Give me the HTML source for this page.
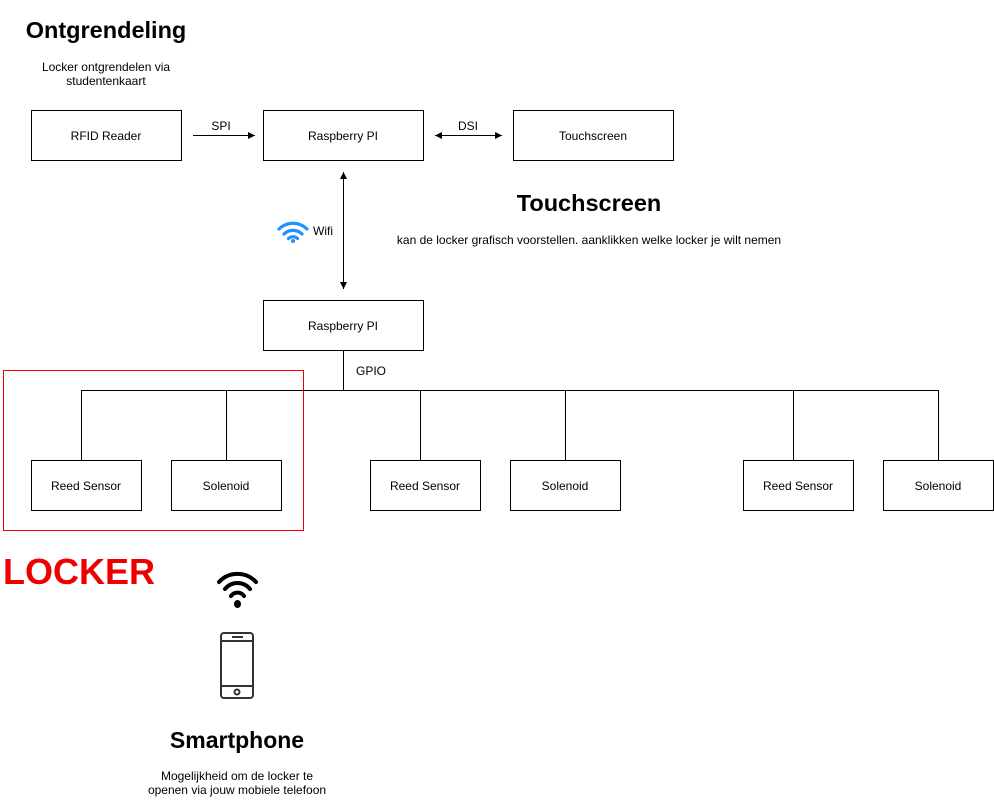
<!DOCTYPE html>
<html><head><style>body{margin:0;background:#fff}svg{display:block}text{font-family:"Liberation Sans",sans-serif}</style></head><body>
<svg width="994" height="811" viewBox="0 0 994 811" xmlns="http://www.w3.org/2000/svg">
<defs><marker id="a" markerWidth="8" markerHeight="8" refX="7" refY="4" orient="auto-start-reverse"><path d="M0,0.5 L7,4 L0,7.5 Z" fill="#000"/></marker></defs>
<g fill="#fff" stroke="#000" stroke-width="1">
<rect x="31.5" y="110.5" width="150" height="50"/>
<rect x="263.5" y="110.5" width="160" height="50"/>
<rect x="513.5" y="110.5" width="160" height="50"/>
<rect x="263.5" y="300.5" width="160" height="50"/>
<rect x="31.5" y="460.5" width="110" height="50"/>
<rect x="171.5" y="460.5" width="110" height="50"/>
<rect x="370.5" y="460.5" width="110" height="50"/>
<rect x="510.5" y="460.5" width="110" height="50"/>
<rect x="743.5" y="460.5" width="110" height="50"/>
<rect x="883.5" y="460.5" width="110" height="50"/>
</g>
<rect x="3.5" y="370.5" width="300" height="160" fill="none" stroke="#e00" stroke-width="1"/>
<g stroke="#000" stroke-width="1" fill="none">
<line x1="193" y1="135.5" x2="255" y2="135.5" marker-end="url(#a)"/>
<line x1="435" y1="135.5" x2="502" y2="135.5" marker-start="url(#a)" marker-end="url(#a)"/>
<line x1="343.5" y1="172" x2="343.5" y2="289" marker-start="url(#a)" marker-end="url(#a)"/>
<line x1="343.5" y1="350" x2="343.5" y2="390"/>
<line x1="81" y1="390.5" x2="938" y2="390.5"/>
<line x1="81.5" y1="390" x2="81.5" y2="460"/>
<line x1="226.5" y1="390" x2="226.5" y2="460"/>
<line x1="420.5" y1="390" x2="420.5" y2="460"/>
<line x1="565.5" y1="390" x2="565.5" y2="460"/>
<line x1="793.5" y1="390" x2="793.5" y2="460"/>
<line x1="938.5" y1="390" x2="938.5" y2="460"/>
</g>
<g font-size="12" text-anchor="middle" fill="#000">
<text x="106" y="140">RFID Reader</text>
<text x="343" y="140">Raspberry PI</text>
<text x="593" y="140">Touchscreen</text>
<text x="343" y="330">Raspberry PI</text>
<text x="86" y="490">Reed Sensor</text>
<text x="226" y="490">Solenoid</text>
<text x="425" y="490">Reed Sensor</text>
<text x="565" y="490">Solenoid</text>
<text x="798" y="490">Reed Sensor</text>
<text x="938" y="490">Solenoid</text>
<text x="221" y="130">SPI</text>
<text x="468" y="130">DSI</text>
<text x="371" y="375">GPIO</text>
<text x="323" y="235">Wifi</text>
<text x="106" y="71">Locker ontgrendelen via</text>
<text x="106" y="85">studentenkaart</text>
<text x="589" y="244">kan de locker grafisch voorstellen. aanklikken welke locker je wilt nemen</text>
<text x="237" y="780">Mogelijkheid om de locker te</text>
<text x="237" y="794">openen via jouw mobiele telefoon</text>
</g>
<g font-weight="bold" text-anchor="middle">
<text x="106" y="38" font-size="23.5">Ontgrendeling</text>
<text x="589" y="211" font-size="23.5">Touchscreen</text>
<text x="237" y="748" font-size="23">Smartphone</text>
<text x="79" y="584" font-size="36" fill="#e00">LOCKER</text>
</g>
<g fill="none" stroke="#1e90ff" stroke-width="3.2" stroke-linecap="round">
<path d="M279,229 A20,20 0 0 1 307,229"/>
<path d="M284,234 A13,13 0 0 1 302,234"/>
<path d="M288.5,238.5 A6.5,6.5 0 0 1 297.5,238.5"/>
</g>
<circle cx="293" cy="241" r="2" fill="#1e90ff"/>
<g fill="none" stroke="#000" stroke-width="4" stroke-linecap="round">
<path d="M219,582 A25,25 0 0 1 256,582"/>
<path d="M225,589 A16,16 0 0 1 250,589"/>
<path d="M231,596 A8,8 0 0 1 244,596"/>
</g>
<ellipse cx="237.5" cy="604" rx="3.5" ry="4" fill="#000"/>
<g fill="none" stroke="#333" stroke-width="2">
<rect x="221" y="633" width="32" height="65" rx="3"/>
<line x1="221" y1="641" x2="253" y2="641"/>
<line x1="221" y1="686" x2="253" y2="686"/>
<circle cx="237" cy="692" r="2.5"/>
</g>
<line x1="232" y1="637" x2="243" y2="637" stroke="#333" stroke-width="2"/>
</svg>
</body></html>
